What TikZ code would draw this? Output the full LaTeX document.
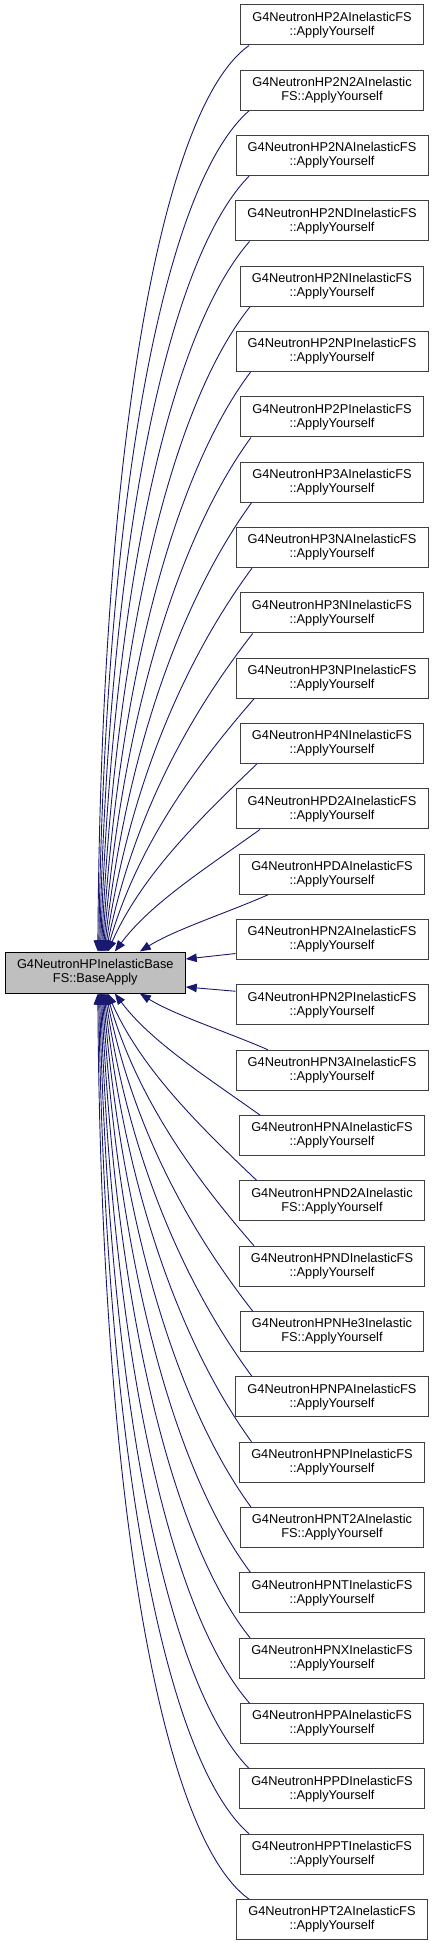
\documentclass[tikz,border=0pt]{standalone}
\usepackage{fontspec}
\setmainfont{Liberation Sans}
\usetikzlibrary{arrows.meta,calc}
\definecolor{edgeblue}{HTML}{191970}
\definecolor{basegray}{HTML}{BFBFBF}
\tikzset{
  fn/.style={draw=black!75, line width=1pt, align=center, minimum height=40pt,
    inner xsep=11.7pt, inner ysep=0pt, font=\fontsize{12.8}{14}\selectfont},
  basefn/.style={fn, draw=black, fill=basegray, minimum height=41pt},
  callarrow/.style={draw=edgeblue, line width=0.9pt, {Triangle[length=11pt,width=8.5pt]}-},
}
\begin{document}
\begin{tikzpicture}[x=1pt,y=1pt]
\useasboundingbox (0,0) rectangle (435,-1945);

% 呼び出し元
\node[basefn] (base) at (95.3,-972.5) {G4NeutronHPInelasticBase\\FS::BaseApply};

% 呼び出し側(右の列)
\foreach \i/\ltop/\lbot in {
    1/2AInelasticFS/::ApplyYourself,
    2/2N2AInelastic/FS::ApplyYourself,
    3/2NAInelasticFS/::ApplyYourself,
    4/2NDInelasticFS/::ApplyYourself,
    5/2NInelasticFS/::ApplyYourself,
    6/2NPInelasticFS/::ApplyYourself,
    7/2PInelasticFS/::ApplyYourself,
    8/3AInelasticFS/::ApplyYourself,
    9/3NAInelasticFS/::ApplyYourself,
    10/3NInelasticFS/::ApplyYourself,
    11/3NPInelasticFS/::ApplyYourself,
    12/4NInelasticFS/::ApplyYourself,
    13/D2AInelasticFS/::ApplyYourself,
    14/DAInelasticFS/::ApplyYourself,
    15/N2AInelasticFS/::ApplyYourself,
    16/N2PInelasticFS/::ApplyYourself,
    17/N3AInelasticFS/::ApplyYourself,
    18/NAInelasticFS/::ApplyYourself,
    19/ND2AInelastic/FS::ApplyYourself,
    20/NDInelasticFS/::ApplyYourself,
    21/NHe3Inelastic/FS::ApplyYourself,
    22/NPAInelasticFS/::ApplyYourself,
    23/NPInelasticFS/::ApplyYourself,
    24/NT2AInelastic/FS::ApplyYourself,
    25/NTInelasticFS/::ApplyYourself,
    26/NXInelasticFS/::ApplyYourself,
    27/PAInelasticFS/::ApplyYourself,
    28/PDInelasticFS/::ApplyYourself,
    29/PTInelasticFS/::ApplyYourself,
    30/T2AInelasticFS/::ApplyYourself} {
    \node[fn] (r\i) at (332,{-25-65.33*(\i-1)}) {G4NeutronHP\ltop\\\lbot};
}

% 矢印(上下の曲線,上下対称)
\foreach \i/\sx/\ex/\fr in {
    1/93/-83/0,
    2/93.9/-83/0.083,
    3/94.8/-83/0.167,
    4/95.7/-82.5/0.25,
    5/96.6/-82/0.333,
    6/97.5/-81.5/0.417,
    7/98.4/-81/0.5,
    8/99.3/-80.5/0.583,
    9/100.2/-80/0.667,
    10/101.1/-79.3/0.75,
    11/102/-78/0.833,
    12/102.9/-75.3/0.917,
    13/110/-72/1,
    14/135/-64/1.1} {
    \pgfmathtruncatemacro\j{31-\i}
    \draw[callarrow] let \p1=([xshift=\sx pt]base.north west), \p2=([xshift=\ex pt]r\i.south),
        \n1={\x2-\x1}, \n2={\y2-\y1} in
        (\p1) .. controls ({\x1+(0.02+0.23*\fr)*\n1},{\y1+(0.55-0.15*\fr)*\n2})
        and ({\x2-(0.59-0.24*\fr)*\n1},{\y2-(0.07+0.23*\fr)*\n2}) .. (\p2);
    \draw[callarrow] let \p1=([xshift=\sx pt]base.south west), \p2=([xshift=\ex pt]r\j.north),
        \n1={\x2-\x1}, \n2={\y2-\y1} in
        (\p1) .. controls ({\x1+(0.02+0.23*\fr)*\n1},{\y1+(0.55-0.15*\fr)*\n2})
        and ({\x2-(0.59-0.24*\fr)*\n1},{\y2-(0.07+0.23*\fr)*\n2}) .. (\p2);
}

% 矢印(横)
\draw[callarrow] ([yshift=13.5pt]base.east) -- ([yshift=6.6pt]r15.south west);
\draw[callarrow] ([yshift=-14.5pt]base.east) -- ([yshift=-6.8pt]r16.north west);
\end{tikzpicture}
\end{document}
